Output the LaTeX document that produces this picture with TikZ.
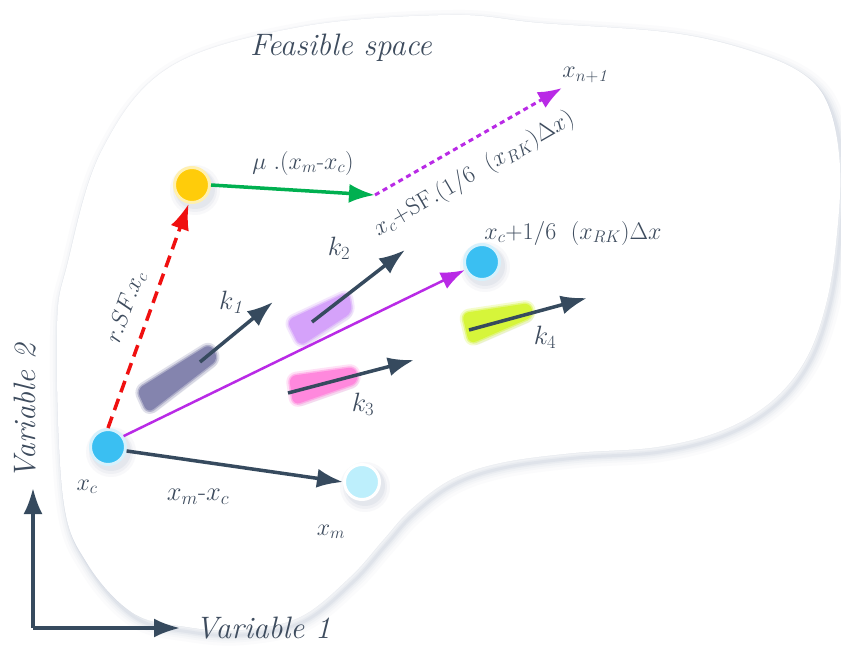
\RequirePackage{fix-cm}
\documentclass[tikz,border=0pt]{standalone}
\usepackage{amsmath}
\usetikzlibrary{arrows.meta}
\definecolor{txt}{HTML}{3E4C5E}
\definecolor{dark}{HTML}{364A5E}
\definecolor{redc}{HTML}{F01010}
\definecolor{greenc}{HTML}{00B050}
\definecolor{purp}{HTML}{B92AE6}
\definecolor{yel}{HTML}{FFCC0A}
\definecolor{yelhalo}{HTML}{FFF0B0}
\definecolor{cyan}{HTML}{3ABFF2}
\definecolor{cyanhalo}{HTML}{D6F1FC}
\definecolor{lcyan}{HTML}{BDEFFC}
\definecolor{kone}{HTML}{8484AE}
\definecolor{ktwo}{HTML}{D5A2FA}
\definecolor{kthree}{HTML}{FF88DD}
\definecolor{kfour}{HTML}{D6F53A}
\definecolor{shadowc}{HTML}{8C98B0}
\newcommand{\blobpath}{plot[smooth cycle, tension=0.6] coordinates {(57,330) (68,262) (102,150) (170,67) (300,27) (450,15) (540,23) (673,33) (757,53) (807,77) (830,110) (840,167) (837,233) (827,300) (807,357) (773,400) (723,430) (657,447) (573,453) (500,463) (450,480) (410,510) (383,540) (350,577) (300,617) (240,630) (187,627) (133,613) (87,563) (63,497)}}
\newcommand{\softshape}[2]{%
  \fill[shadowc, opacity=0.10, rounded corners=7pt, shift={(3,4)}] #2 -- cycle;
  \draw[#1, opacity=0.25, line width=9pt, line join=round, rounded corners=6pt] #2 -- cycle;
  \draw[#1, opacity=0.5, line width=5pt, line join=round, rounded corners=6pt] #2 -- cycle;
  \filldraw[#1, line width=2pt, line join=round, rounded corners=6pt] #2 -- cycle;}
\newcommand{\ballshadow}[2]{%
  \fill[shadowc, opacity=0.06] (#1+3,#2+5) circle (25pt);
  \fill[shadowc, opacity=0.08] (#1+3,#2+5) circle (22pt);
  \fill[shadowc, opacity=0.10] (#1+3,#2+4) circle (20pt);}
\tikzset{
  ball/.style={circle, minimum size=35pt, inner sep=0pt, line width=3pt},
  lbl/.style={text=txt, font=\fontsize{24}{28}\selectfont, inner sep=0pt},
  klbl/.style={text=txt, font=\fontsize{26.5}{30}\selectfont, inner sep=0pt},
  biglbl/.style={text=txt, font=\fontsize{31}{35}\selectfont, inner sep=0pt},
  tip/.style={-{Latex[length=26pt,width=19pt]}},
  darrow/.style={tip, draw=dark, line width=3.5pt},
}
\begin{document}
\begin{tikzpicture}[x=1pt,y=-1pt]
\useasboundingbox (0,0) rectangle (841,646);
\fill[white] (0,0) rectangle (841,646);
% feasible region with soft shadow
\foreach \w/\o in {20/0.03,14/0.04,10/0.05,6/0.07,3/0.09}
  \draw[shadowc, line width=\w pt, opacity=\o, shift={(3,5)}] \blobpath;
\draw[shadowc, line width=1pt, opacity=0.10] \blobpath;
\fill[white] \blobpath;

% coloured k shapes
\softshape{kone}{(138,390) -- (148,412) -- (217,359) -- (210,345)}
\softshape{ktwo}{(288,321) -- (300,345) -- (351,312) -- (348,293)}
\softshape{kthree}{(290,377) -- (294,404) -- (357,382) -- (355,368)}
\softshape{kfour}{(463,314) -- (470,343) -- (532,316) -- (530,304)}

% circles
\ballshadow{192}{185}
\ballshadow{108}{447}
\ballshadow{482}{262}
\ballshadow{362}{482}
\node[ball, fill=yel, draw=yelhalo] (yb) at (192,185) {};
\node[ball, fill=cyan, draw=cyanhalo] (xc) at (108,447) {};
\node[ball, fill=cyan, draw=cyanhalo] (rk) at (482,262) {};
\node[ball, fill=lcyan, draw=white] (xm) at (362,482) {};

\coordinate (mid) at (375,195);
\coordinate (xn) at (562,88);

% connectors
\draw[tip, redc, line width=3.5pt, dash pattern=on 12pt off 7pt] (xc.north) -- (yb.-100);
\draw[tip, greenc, line width=3.5pt] (yb.east) -- (mid);
\draw[purp, line width=3pt, dash pattern=on 5pt off 4pt, -{Latex[length=24pt,width=18pt]}] (mid) -- (xn);
\draw[purp, line width=2.5pt, -{Latex[length=24pt,width=18pt]}] (xc.35) -- (rk.205);
\draw[darrow] (xc.-12) -- (xm.west);

% k vectors
\coordinate (k1s) at (200,362); \coordinate (k1e) at (273,302);
\coordinate (k2s) at (312,322); \coordinate (k2e) at (405,250);
\coordinate (k3s) at (288,393); \coordinate (k3e) at (414,360);
\coordinate (k4s) at (469,330); \coordinate (k4e) at (587,298);
\draw[darrow] (k1s) -- (k1e);
\draw[darrow] (k2s) -- (k2e);
\draw[darrow] (k3s) -- (k3e);
\draw[darrow] (k4s) -- (k4e);

% axes
\coordinate (o) at (33,628);
\coordinate (ay) at (33,488);
\coordinate (ax) at (180,628);
\draw[darrow] (o) -- (ax);
\draw[darrow] (o) -- (ay);

% labels
\node[biglbl] (tfeas) at (341,48) {\itshape Feasible space};
\node[biglbl] (tv1) at (263,628) {\itshape Variable 1};
\node[biglbl, rotate=90] (tv2) at (25,412) {\itshape Variable 2};
\node[lbl] (tmu) at (303,163) {$\mu\ .(x_m$-$x_c)$};
\node[lbl, rotate=30] (tsf) at (474,174) {$x_c{+}\mathrm{SF}.(1/6\ \ (x_{RK})\Delta x)$};
\node[lbl] (txn) at (586,75) {$x_{n+\mathit{1}}$};
\node[lbl] (trk) at (573,233) {$x_c{+}1/6\ \ (x_{RK})\Delta x$};
\node[lbl, rotate=70] (trsf) at (126,307) {$r.SF.x_c$};
\node[klbl] (tk1) at (232,302) {$k_{\mathit{1}}$};
\node[klbl] (tk2) at (339,248) {$k_2$};
\node[klbl] (tk3) at (363,404) {$k_3$};
\node[klbl] (tk4) at (545,337) {$k_4$};
\node[lbl] (txc) at (87,487) {$x_c$};
\node[klbl] (txmxc) at (198,497) {$x_m$-$x_c$};
\node[lbl] (txm) at (331,532) {$x_m$};
\end{tikzpicture}
\end{document}
